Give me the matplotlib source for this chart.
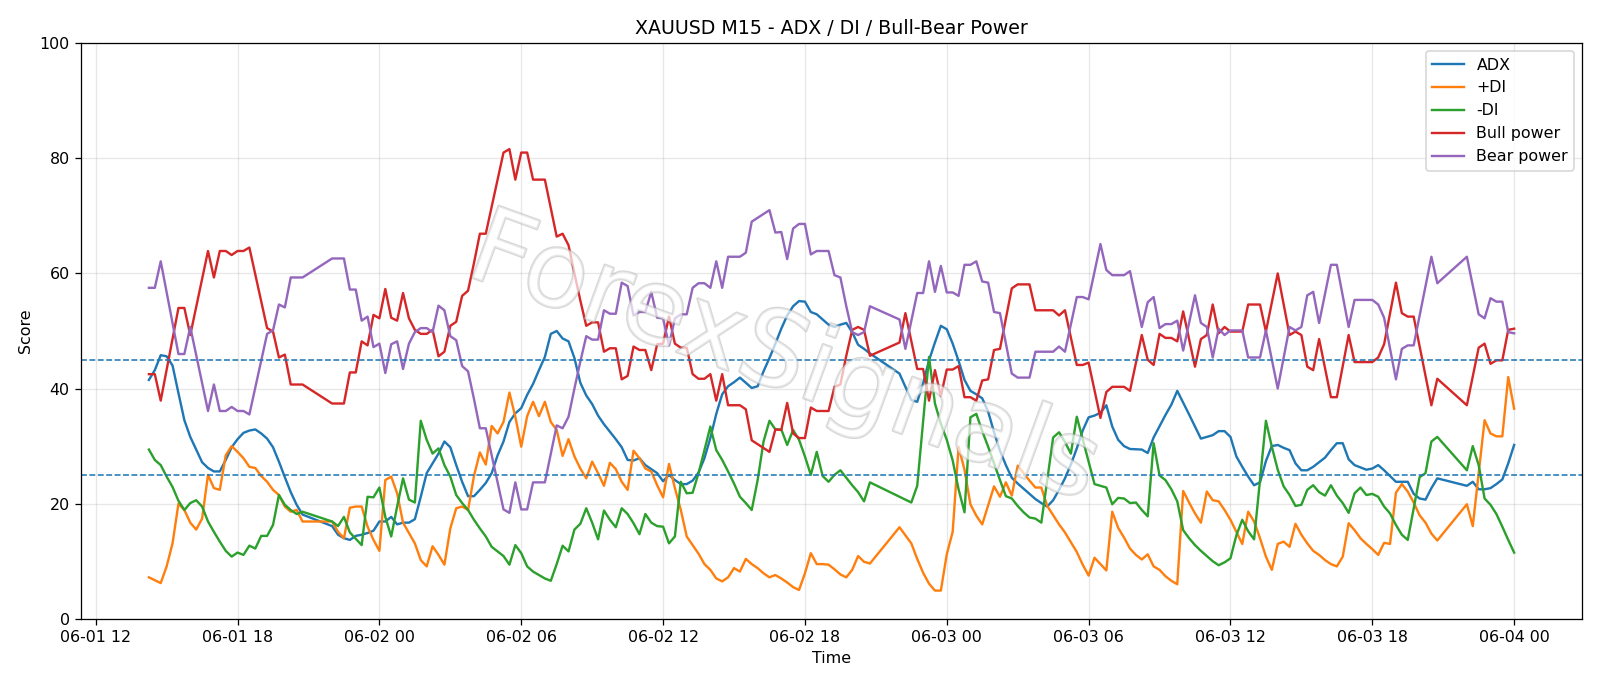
import matplotlib
matplotlib.use("Agg")
import matplotlib.pyplot as plt
import matplotlib.dates as mdates
import matplotlib.patheffects as pe
import pandas as pd

start = pd.Timestamp("2024-06-01 12:00")

# bull / bear power (hours after 06-01 12:00)
pw_h = [2.25, 2.5, 2.75, 3.5, 3.75, 4.0, 4.75, 5.0, 5.25, 5.5, 5.75, 6.0, 6.25, 6.5, 7.25, 7.5, 7.75, 8.0, 8.25, 8.75,
        10.0, 10.5, 10.75, 11.0, 11.25, 11.5, 11.75, 12.0, 12.25, 12.5, 12.75, 13.0, 13.25, 13.5, 13.75, 14.0, 14.25,
        14.5, 14.75, 15.0, 15.25, 15.5, 15.75, 16.0, 16.25, 16.5, 17.25, 17.5, 17.75, 18.0, 18.25, 18.5, 19.0, 19.5,
        19.75, 20.0, 20.25, 20.5, 20.75, 21.0, 21.25, 21.5, 21.75, 22.0, 22.25, 22.5, 22.75, 23.0, 23.25, 23.5, 23.75,
        24.0, 24.25, 24.5, 24.75, 25.0, 25.25, 25.5, 25.75, 26.0, 26.25, 26.5, 26.75, 27.0, 27.25, 27.5, 27.75, 28.5,
        28.75, 29.0, 29.25, 29.5, 29.75, 30.0, 30.25, 30.5, 30.75, 31.0, 31.25, 31.5, 31.75, 32.0, 32.25, 32.5, 32.75,
        34.0, 34.25, 34.75, 35.0, 35.25, 35.5, 35.75, 36.0, 36.25, 36.5, 36.75, 37.0, 37.25, 37.5, 37.75, 38.0, 38.25,
        38.75, 39.0, 39.25, 39.5, 39.75, 40.0, 40.25, 40.5, 40.75, 41.0, 41.5, 41.75, 42.0, 42.5, 42.75, 43.0, 43.25,
        43.5, 43.75, 44.25, 44.5, 44.75, 45.0, 45.25, 45.5, 45.75, 46.0, 46.5, 46.75, 47.0, 47.25, 47.5, 47.75, 48.0,
        48.5, 48.75, 49.25, 49.5, 50.0, 50.5, 50.75, 51.0, 51.25, 51.5, 51.75, 52.25, 52.5, 53.0, 53.25, 54.0, 54.25,
        54.5, 55.0, 55.25, 55.5, 55.75, 56.5, 56.75, 58.0, 58.5, 58.75, 59.0, 59.25, 59.5, 59.75, 60.0]
bear = [57.5, 57.5, 62.1, 46.0, 46.0, 50.7, 36.1, 40.7, 36.1, 36.1, 36.8, 36.1, 36.1, 35.5, 49.5, 50.1, 54.6, 54.1, 59.3, 59.3,
        62.6, 62.6, 57.2, 57.2, 51.8, 52.5, 47.2, 47.8, 42.7, 47.7, 48.2, 43.4, 47.8, 49.8, 50.5, 50.5, 49.8,
        54.4, 53.6, 49.1, 48.4, 43.9, 43.0, 38.2, 33.1, 33.1, 19.0, 18.4, 23.7, 19.0, 19.0, 23.7, 23.7, 33.6,
        33.1, 35.1, 40.0, 44.7, 49.1, 48.5, 48.5, 53.6, 53.0, 53.0, 58.4, 57.8, 52.7, 53.3, 53.3, 56.8, 52.3,
        52.2, 47.5, 52.2, 52.9, 52.9, 57.5, 58.3, 58.3, 57.5, 62.1, 57.5, 62.9, 62.9, 62.9, 63.6, 69.0, 71.0,
        67.1, 67.2, 62.5, 67.8, 68.6, 68.6, 63.3, 63.9, 63.9, 63.9, 59.7, 59.3, 54.3, 49.8, 49.3, 49.8, 54.3,
        52.0, 46.9, 56.6, 56.6, 62.1, 56.8, 61.3, 56.7, 56.7, 56.1, 61.5, 61.5, 62.1, 58.6, 58.4, 53.3, 53.1,
        42.6, 41.9, 41.9, 41.9, 46.4, 46.4, 46.4, 46.4, 47.3, 46.4, 55.9, 55.9, 55.5, 65.1, 60.6, 59.7, 59.7,
        59.7, 60.4, 50.7, 55.0, 55.9, 50.5, 51.2, 51.2, 51.8, 46.6, 56.2, 51.4, 50.7, 45.4, 50.4, 49.3, 50.1,
        50.1, 45.4, 45.4, 50.1, 40.0, 50.7, 50.1, 50.7, 56.2, 56.8, 51.4, 61.5, 61.5, 50.7, 55.4, 55.4, 54.6,
        52.3, 41.6, 46.9, 47.5, 47.5, 62.9, 58.3, 62.9, 52.9, 52.2, 55.7, 55.1, 55.1, 49.8, 49.6]
bull = [42.5, 42.5, 37.9, 54.0, 54.0, 49.3, 63.9, 59.3, 63.9, 63.9, 63.2, 63.9, 63.9, 64.5, 50.5, 49.9, 45.4, 45.9, 40.7, 40.7,
        37.4, 37.4, 42.8, 42.8, 48.2, 47.5, 52.8, 52.2, 57.3, 52.3, 51.8, 56.6, 52.2, 50.2, 49.5, 49.5, 50.2,
        45.6, 46.4, 50.9, 51.6, 56.1, 57.0, 61.8, 66.9, 66.9, 81.0, 81.6, 76.3, 81.0, 81.0, 76.3, 76.3, 66.4,
        66.9, 64.9, 60.0, 55.3, 50.9, 51.5, 51.5, 46.4, 47.0, 47.0, 41.6, 42.2, 47.3, 46.7, 46.7, 43.2, 47.7,
        47.8, 52.5, 47.8, 47.1, 47.1, 42.5, 41.7, 41.7, 42.5, 37.9, 42.5, 37.1, 37.1, 37.1, 36.4, 31.0, 29.0,
        32.9, 32.8, 37.5, 32.2, 31.4, 31.4, 36.7, 36.1, 36.1, 36.1, 40.3, 40.7, 45.7, 50.2, 50.7, 50.2, 45.7,
        48.0, 53.1, 43.4, 43.4, 37.9, 43.2, 38.7, 43.3, 43.3, 43.9, 38.5, 38.5, 37.9, 41.4, 41.6, 46.7, 46.9,
        57.4, 58.1, 58.1, 58.1, 53.6, 53.6, 53.6, 53.6, 52.7, 53.6, 44.1, 44.1, 44.5, 34.9, 39.4, 40.3, 40.3,
        40.3, 39.6, 49.3, 45.0, 44.1, 49.5, 48.8, 48.8, 48.2, 53.4, 43.8, 48.6, 49.3, 54.6, 49.6, 50.7, 49.9,
        49.9, 54.6, 54.6, 49.9, 60.0, 49.3, 49.9, 49.3, 43.8, 43.2, 48.6, 38.5, 38.5, 49.3, 44.6, 44.6, 45.4,
        47.7, 58.4, 53.1, 52.5, 52.5, 37.1, 41.7, 37.1, 47.1, 47.8, 44.3, 44.9, 44.9, 50.2, 50.4]

adx_h = [2.25, 2.5, 2.75, 3.0, 3.25, 3.5, 3.75, 4.0, 4.25, 4.5, 4.75, 5.0, 5.25, 5.5, 5.75, 6.0, 6.25, 6.5, 6.75, 7.0,
         7.25, 7.5, 7.75, 8.0, 8.25, 8.5, 8.75, 10.0, 10.25, 10.5, 10.75, 11.0, 11.25, 11.5, 11.75, 12.0, 12.25, 12.5,
         12.75, 13.0, 13.25, 13.5, 13.75, 14.0, 14.25, 14.5, 14.75, 15.0, 15.25, 15.5, 15.75, 16.0, 16.25, 16.5, 16.75,
         17.0, 17.25, 17.5, 17.75, 18.0, 18.25, 18.5, 18.75, 19.0, 19.25, 19.5, 19.75, 20.0, 20.25, 20.5, 20.75, 21.0,
         21.25, 21.5, 21.75, 22.0, 22.25, 22.5, 22.75, 23.0, 23.25, 23.5, 23.75, 24.0, 24.25, 24.5, 24.75, 25.0, 25.25,
         25.5, 25.75, 26.0, 26.25, 26.5, 26.75, 27.0, 27.25, 27.5, 27.75, 28.0, 28.25, 28.5, 28.75, 29.0, 29.25, 29.5,
         29.75, 30.0, 30.25, 30.5, 30.75, 31.0, 31.25, 31.5, 31.75, 32.0, 32.25, 32.5, 32.75, 34.0, 34.5, 34.75, 35.0,
         35.25, 35.5, 35.75, 36.0, 36.25, 36.5, 36.75, 37.0, 37.25, 37.5, 37.75, 38.0, 38.25, 38.5, 38.75, 39.0, 39.25,
         39.5, 39.75, 40.0, 40.25, 40.5, 40.75, 41.0, 41.25, 41.5, 41.75, 42.0, 42.25, 42.5, 42.75, 43.0, 43.25, 43.5,
         43.75, 44.25, 44.5, 44.75, 45.25, 45.5, 45.75, 46.25, 46.75, 47.25, 47.5, 47.75, 48.0, 48.25, 48.5, 48.75,
         49.0, 49.25, 49.5, 49.75, 50.0, 50.25, 50.5, 50.75, 51.0, 51.25, 51.5, 51.75, 52.0, 52.25, 52.5, 52.75, 53.0,
         53.25, 53.5, 53.75, 54.0, 54.25, 54.5, 54.75, 55.0, 55.25, 55.5, 55.75, 56.0, 56.25, 56.5, 56.75, 58.0, 58.25,
         58.5, 58.75, 59.0, 59.25, 59.5, 59.75, 60.0]
adx = [41.5, 43.2, 45.8, 45.6, 44.0, 39.2, 34.5, 31.6, 29.4, 27.2, 26.2, 25.6, 25.6, 27.6, 29.8, 31.2, 32.3, 32.7, 32.9, 32.2,
       31.3, 29.8, 27.3, 24.6, 22.0, 19.8, 18.1, 16.1, 14.6, 14.0, 13.7, 14.4, 14.6, 14.9, 15.3, 16.9, 16.9, 17.7,
       16.4, 16.7, 16.7, 17.3, 21.2, 25.3, 27.0, 28.7, 30.8, 29.8, 26.7, 23.8, 21.3, 21.3, 22.4, 23.6, 25.3,
       28.4, 30.8, 34.2, 35.7, 36.6, 38.9, 40.8, 43.2, 45.5, 49.5, 50.0, 48.7, 48.2, 45.3, 41.0, 38.8, 37.3,
       35.3, 33.8, 32.5, 31.2, 29.8, 27.6, 27.5, 27.9, 26.7, 26.0, 25.3, 23.9, 25.0, 24.1, 23.4, 23.4, 24.0,
       25.4, 27.9, 31.4, 35.6, 39.0, 40.4, 41.1, 41.9, 41.0, 40.1, 40.4, 43.0, 45.3, 47.8, 50.4, 52.7, 54.3,
       55.2, 55.1, 53.3, 52.9, 52.0, 51.1, 50.7, 51.1, 51.4, 49.8, 47.6, 46.9, 46.1, 42.6, 38.0, 37.7, 40.9,
       44.9, 48.0, 50.9, 50.3, 47.8, 44.8, 41.5, 39.6, 39.0, 38.3, 36.0, 32.4, 29.2, 26.7, 24.5, 23.5, 22.6,
       21.7, 20.8, 20.1, 19.5, 20.6, 22.4, 24.4, 26.8, 29.6, 32.7, 35.0, 35.3, 35.8, 37.1, 33.4, 31.1, 30.0,
       29.5, 29.4, 28.8, 31.5, 35.4, 37.2, 39.6, 35.5, 31.3, 31.9, 32.6, 32.6, 31.6, 28.2, 26.4, 24.7,
       23.2, 23.7, 27.4, 30.0, 30.2, 29.7, 29.3, 27.0, 25.8, 25.8, 26.4, 27.2, 28.0, 29.3, 30.5, 30.5, 27.7,
       26.7, 26.3, 25.9, 26.1, 26.7, 25.8, 24.8, 23.8, 23.8, 23.8, 21.7, 20.9, 20.7, 22.7, 24.4, 23.1, 23.8,
       22.5, 22.5, 22.7, 23.4, 24.2, 27.0, 30.2]

pdi_h = [2.25, 2.5, 2.75, 3.0, 3.25, 3.5, 3.75, 4.0, 4.25, 4.5, 4.75, 5.0, 5.25, 5.5, 5.75, 6.0, 6.25, 6.5, 6.75, 7.0,
         7.25, 7.5, 7.75, 8.0, 8.25, 8.5, 8.75, 10.0, 10.25, 10.5, 10.75, 11.0, 11.25, 11.5, 11.75, 12.0, 12.25, 12.5,
         12.75, 13.0, 13.25, 13.5, 13.75, 14.0, 14.25, 14.5, 14.75, 15.0, 15.25, 15.5, 15.75, 16.0, 16.25, 16.5, 16.75,
         17.0, 17.25, 17.5, 17.75, 18.0, 18.25, 18.5, 18.75, 19.0, 19.25, 19.5, 19.75, 20.0, 20.25, 20.5, 20.75, 21.0,
         21.25, 21.5, 21.75, 22.0, 22.25, 22.5, 22.75, 23.0, 23.25, 23.5, 23.75, 24.0, 24.25, 24.5, 24.75, 25.0, 25.25,
         25.5, 25.75, 26.0, 26.25, 26.5, 26.75, 27.0, 27.25, 27.5, 27.75, 28.0, 28.25, 28.5, 28.75, 29.0, 29.25, 29.5,
         29.75, 30.0, 30.25, 30.5, 30.75, 31.0, 31.25, 31.5, 31.75, 32.0, 32.25, 32.5, 32.75, 34.0, 34.25, 34.5, 34.75,
         35.0, 35.25, 35.5, 35.75, 36.0, 36.25, 36.5, 36.75, 37.0, 37.25, 37.5, 38.0, 38.25, 38.5, 38.75, 39.0, 39.25,
         39.5, 39.75, 40.0, 40.25, 40.5, 40.75, 41.0, 41.5, 41.75, 42.0, 42.25, 42.5, 42.75, 43.0, 43.25, 43.5, 43.75,
         44.0, 44.25, 44.5, 44.75, 45.0, 45.25, 45.5, 45.75, 46.0, 46.25, 46.5, 46.75, 47.0, 47.25, 47.5, 47.75, 48.0,
         48.25, 48.5, 48.75, 49.0, 49.25, 49.5, 49.75, 50.0, 50.25, 50.5, 50.75, 51.0, 51.25, 51.5, 51.75, 52.0, 52.25,
         52.5, 52.75, 53.0, 53.25, 53.5, 53.75, 54.0, 54.25, 54.5, 54.75, 55.0, 55.25, 55.5, 55.75, 56.0, 56.25, 56.5,
         56.75, 58.0, 58.25, 58.75, 59.0, 59.25, 59.5, 59.75, 60.0]
pdi = [7.2, 6.7, 6.2, 9.1, 13.1, 20.0, 18.9, 16.7, 15.5, 17.4, 25.0, 22.7, 22.4, 28.4, 30.0, 29.0, 27.9, 26.4, 26.2, 24.8,
       23.8, 22.4, 21.5, 19.5, 18.6, 18.9, 16.9, 16.9, 15.1, 14.0, 19.3, 19.5, 19.5, 16.0, 13.7, 11.8, 24.1, 24.7,
       21.8, 16.7, 14.9, 13.1, 10.2, 9.1, 12.6, 11.1, 9.4, 15.7, 19.2, 19.5, 18.9, 24.8, 28.9, 26.8, 33.5,
       32.2, 34.2, 39.3, 35.1, 29.9, 35.2, 37.7, 35.2, 37.7, 34.2, 32.8, 28.3, 31.2, 28.2, 26.1, 24.4, 27.3,
       25.3, 23.1, 27.1, 26.0, 23.8, 22.4, 29.2, 27.9, 26.1, 25.6, 23.2, 21.1, 26.9, 22.7, 18.9, 14.3, 12.8,
       11.3, 9.5, 8.5, 7.0, 6.5, 7.2, 8.8, 8.2, 10.4, 9.5, 8.8, 7.9, 7.2, 7.6, 7.0, 6.3, 5.5,
       5.0, 7.9, 11.4, 9.5, 9.5, 9.4, 8.6, 7.7, 7.2, 8.5, 10.9, 9.9, 9.6, 15.9, 14.5, 13.1, 10.4,
       8.0, 6.1, 4.9, 4.9, 11.2, 15.1, 29.9, 25.9, 19.9, 17.9, 16.4, 23.0, 21.2, 23.7, 21.4, 26.6, 25.3,
       24.0, 22.8, 22.8, 19.6, 18.0, 16.4, 15.0, 11.6, 9.4, 7.5, 10.6, 9.5, 8.4, 18.6, 15.8, 14.1, 12.2,
       11.1, 10.3, 11.2, 9.1, 8.5, 7.4, 6.6, 6.0, 22.2, 20.2, 18.3, 16.7, 22.1, 20.6, 20.4, 18.9, 17.2,
       15.1, 13.0, 18.6, 16.9, 14.0, 10.8, 8.5, 13.0, 13.4, 12.5, 16.5, 14.6, 13.1, 11.8, 11.1, 10.2, 9.5,
       9.1, 10.8, 16.6, 15.4, 14.0, 13.0, 12.1, 11.1, 13.2, 13.0, 21.9, 23.4, 22.1, 20.2, 18.0, 16.7, 14.8,
       13.6, 19.9, 16.1, 34.5, 32.2, 31.7, 31.7, 42.0, 36.5]

mdi_h = [2.25, 2.5, 2.75, 3.0, 3.25, 3.5, 3.75, 4.0, 4.25, 4.5, 4.75, 5.0, 5.25, 5.5, 5.75, 6.0, 6.25, 6.5, 6.75, 7.0,
         7.25, 7.5, 7.75, 8.0, 8.25, 8.5, 8.75, 10.0, 10.25, 10.5, 10.75, 11.0, 11.25, 11.5, 11.75, 12.0, 12.25, 12.5,
         12.75, 13.0, 13.25, 13.5, 13.75, 14.0, 14.25, 14.5, 14.75, 15.0, 15.25, 15.5, 15.75, 16.0, 16.25, 16.5, 16.75,
         17.0, 17.25, 17.5, 17.75, 18.0, 18.25, 18.5, 18.75, 19.0, 19.25, 19.5, 19.75, 20.0, 20.25, 20.5, 20.75, 21.0,
         21.25, 21.5, 21.75, 22.0, 22.25, 22.5, 22.75, 23.0, 23.25, 23.5, 23.75, 24.0, 24.25, 24.5, 24.75, 25.0, 25.25,
         25.5, 25.75, 26.0, 26.25, 26.5, 26.75, 27.0, 27.25, 27.5, 27.75, 28.0, 28.25, 28.5, 28.75, 29.0, 29.25, 29.5,
         29.75, 30.0, 30.25, 30.5, 30.75, 31.0, 31.25, 31.5, 31.75, 32.0, 32.25, 32.5, 32.75, 34.5, 34.75, 35.25, 35.5,
         35.75, 36.0, 36.25, 36.5, 36.75, 37.0, 37.25, 37.5, 37.75, 38.0, 38.25, 38.5, 38.75, 39.0, 39.25, 39.5, 39.75,
         40.0, 40.5, 40.75, 41.0, 41.25, 41.5, 42.25, 42.5, 42.75, 43.0, 43.25, 43.5, 43.75, 44.0, 44.25, 44.5, 44.75,
         45.0, 45.25, 45.5, 45.75, 46.0, 46.25, 46.5, 46.75, 47.0, 47.25, 47.5, 47.75, 48.0, 48.25, 48.5, 48.75, 49.0,
         49.5, 49.75, 50.0, 50.25, 50.5, 50.75, 51.0, 51.25, 51.5, 51.75, 52.0, 52.25, 52.5, 52.75, 53.0, 53.25, 53.5,
         53.75, 54.0, 54.25, 54.5, 54.75, 55.0, 55.25, 55.5, 56.0, 56.25, 56.5, 56.75, 58.0, 58.25, 58.5, 58.75, 59.0,
         59.25, 59.5, 59.75, 60.0]
mdi = [29.4, 27.6, 26.7, 24.7, 22.9, 20.5, 18.9, 20.1, 20.6, 19.5, 16.9, 15.1, 13.4, 11.8, 10.8, 11.5, 11.1, 12.7, 12.2, 14.4,
       14.4, 16.3, 21.5, 19.8, 18.9, 18.2, 18.6, 16.9, 16.1, 17.7, 15.0, 13.9, 12.8, 21.2, 21.1, 22.8, 17.7, 14.3,
       19.5, 24.4, 20.7, 20.2, 34.4, 31.1, 28.7, 29.6, 26.7, 24.7, 21.5, 20.1, 18.9, 17.2, 15.7, 14.3, 12.5,
       11.7, 10.9, 9.4, 12.8, 11.4, 9.1, 8.2, 7.6, 7.0, 6.6, 9.5, 12.7, 11.7, 15.5, 16.5, 19.2, 16.7,
       13.8, 18.8, 17.2, 15.9, 19.2, 18.2, 16.6, 14.7, 18.2, 16.7, 16.1, 16.0, 13.1, 14.3, 23.8, 21.8, 21.9,
       25.3, 29.3, 33.4, 29.3, 27.6, 25.6, 23.5, 21.2, 20.1, 18.9, 24.1, 30.8, 34.4, 32.9, 32.9, 30.2, 32.8,
       31.1, 28.2, 25.0, 29.0, 24.8, 23.8, 25.0, 25.8, 24.5, 23.2, 22.0, 20.4, 23.7, 20.2, 23.1, 45.5, 37.4,
       33.9, 31.1, 27.5, 22.5, 18.5, 35.0, 35.6, 32.6, 29.9, 27.0, 24.1, 21.3, 20.9, 19.6, 18.5, 17.6, 17.4,
       16.7, 31.5, 32.4, 30.7, 28.7, 35.1, 23.4, 23.1, 22.8, 19.9, 21.0, 20.9, 20.1, 20.2, 18.9, 17.8, 30.5,
       24.9, 24.1, 22.5, 20.4, 15.4, 14.0, 12.8, 11.8, 10.9, 10.0, 9.3, 9.8, 10.5, 14.5, 17.2, 15.2, 13.8,
       34.4, 29.9, 25.9, 23.0, 21.5, 19.6, 19.8, 22.4, 23.2, 22.0, 21.4, 23.2, 21.4, 20.1, 18.4, 21.8, 22.8,
       21.5, 21.7, 21.2, 19.5, 18.3, 16.3, 14.6, 13.7, 24.6, 25.3, 30.8, 31.6, 25.8, 30.0, 26.7, 20.9, 19.8,
       18.2, 16.0, 13.7, 11.5]


def to_time(hours):
    return start + pd.to_timedelta(hours, unit="h")


DPI = 1600 / 14
fig, ax = plt.subplots(figsize=(14, 686 / DPI), dpi=DPI)
fig.subplots_adjust(left=0.0504, right=0.989, top=0.937, bottom=0.098)

ax.plot(to_time(adx_h), adx, label="ADX")
ax.plot(to_time(pdi_h), pdi, label="+DI")
ax.plot(to_time(mdi_h), mdi, label="-DI")
ax.plot(to_time(pw_h), bull, label="Bull power")
ax.plot(to_time(pw_h), bear, label="Bear power")

ax.axhline(25, linestyle="--", linewidth=1)
ax.axhline(45, linestyle="--", linewidth=1)

ax.set_ylim(0, 100)
ax.set_title("XAUUSD M15 - ADX / DI / Bull-Bear Power")
ax.set_xlabel("Time")
ax.set_ylabel("Score")
ax.grid(True, alpha=0.3)
ax.legend(loc="upper right")
ax.xaxis.set_major_locator(mdates.HourLocator(byhour=[0, 6, 12, 18]))
ax.xaxis.set_major_formatter(mdates.DateFormatter("%m-%d %H"))

# watermark
fig.text(0.49, 0.475, "ForexSignals", fontsize=66, color="white", alpha=0.45,
         rotation=-20, ha="center", va="center", zorder=5,
         path_effects=[pe.withStroke(linewidth=1.6, foreground="#a8a8a8")])

fig.savefig("out.png", dpi=DPI)
